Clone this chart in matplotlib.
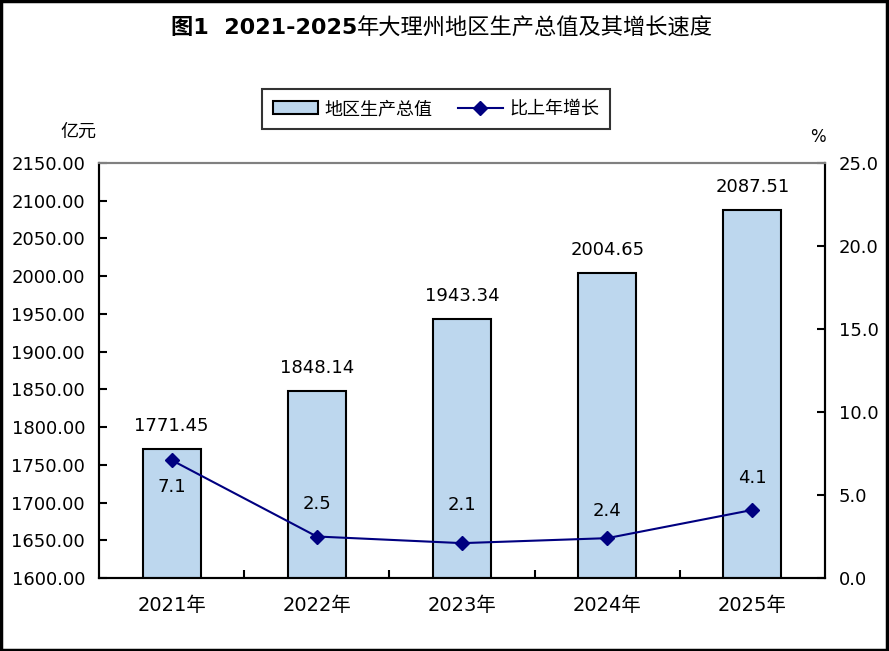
import matplotlib
matplotlib.use("Agg")
import matplotlib.pyplot as plt
from matplotlib.patches import Rectangle
import numpy as np

plt.rcParams['font.family'] = ['DejaVu Sans', 'Noto Sans CJK SC']

years = ['2021年', '2022年', '2023年', '2024年', '2025年']
gdp = [1771.45, 1848.14, 1943.34, 2004.65, 2087.51]
growth = [7.1, 2.5, 2.1, 2.4, 4.1]

left_ticks = np.arange(1600, 2151, 50)
right_ticks = np.arange(0, 25.1, 5)

fig = plt.figure(figsize=(8.89, 6.51), dpi=100)
ax = fig.add_axes([99/889, 1-578/651, 726/889, 415/651])
x = np.arange(len(years))

ax.bar(x, gdp, width=0.4, color='#BDD7EE', edgecolor='black', linewidth=1.5,
       label='地区生产总值', zorder=2)
ax.set_xlim(-0.5, len(years)-0.5)
ax.set_ylim(1600, 2150)
ax.set_yticks(left_ticks)
ax.set_yticklabels(['%.2f' % v for v in left_ticks], fontsize=13)
ax.set_xticks(x)
ax.set_xticklabels(years, fontsize=14)
ax.tick_params(axis='x', length=0, pad=13)
ax.set_xticks(x[:-1] + 0.5, minor=True)
ax.tick_params(axis='x', which='minor', direction='in', length=6, width=1.5)
ax.tick_params(axis='y', direction='in', length=6, width=1.5, pad=10)

for xi, v in zip(x, gdp):
    ax.annotate('%.2f' % v, (xi, v), xytext=(0, 10), textcoords='offset points',
                ha='center', va='bottom', fontsize=13)

ax2 = ax.twinx()
ax2.plot(x, growth, color='#000080', marker='D', markersize=7, linewidth=1.5,
         label='比上年增长', zorder=3)
ax2.set_ylim(0, 25)
ax2.set_yticks(right_ticks)
ax2.set_yticklabels(['%.1f' % v for v in right_ticks], fontsize=13)
ax2.tick_params(axis='y', direction='in', length=6, width=1.5, pad=10)

offsets = [-27, 33, 38, 27, 32]
for xi, v, dy in zip(x, growth, offsets):
    ax2.annotate('%.1f' % v, (xi, v), xytext=(0, dy / 1.39), textcoords='offset points',
                 ha='center', va='center', fontsize=13)

for a in (ax, ax2):
    for s in ('left', 'right', 'bottom'):
        a.spines[s].set_linewidth(1.5)
        a.spines[s].set_color('black')
    a.spines['top'].set_color('#808080')
    a.spines['top'].set_linewidth(1.5)

fig.text(60/889, 1-132/651, '亿元', fontsize=13, ha='left', va='center')
fig.text(818/889, 1-137/651, '%', fontsize=12, ha='center', va='center')

t1 = fig.text(171/889, 1-28/651, '图1  2021-2025', fontsize=16, fontweight='bold',
              ha='left', va='center')
fig.canvas.draw()
ax.annotate('年大理州地区生产总值及其增长速度', xy=(1, 0.5), xycoords=t1,
            fontsize=16, ha='left', va='center', annotation_clip=False)

h1, l1 = ax.get_legend_handles_labels()
h2, l2 = ax2.get_legend_handles_labels()
leg = fig.legend(h1 + h2, l1 + l2, loc='center', bbox_to_anchor=(436/889, 1-109/651),
                 ncol=2, fontsize=13, frameon=True, fancybox=False, edgecolor='black',
                 handlelength=2.5, handletextpad=0.35, columnspacing=1.4, borderpad=0.6)
leg.get_frame().set_linewidth(1.5)

fig.patches.append(Rectangle((0.001, 0.001), 0.997, 0.997, transform=fig.transFigure,
                             fill=False, edgecolor='black', linewidth=2.5))

fig.savefig('out.png', dpi=100)
